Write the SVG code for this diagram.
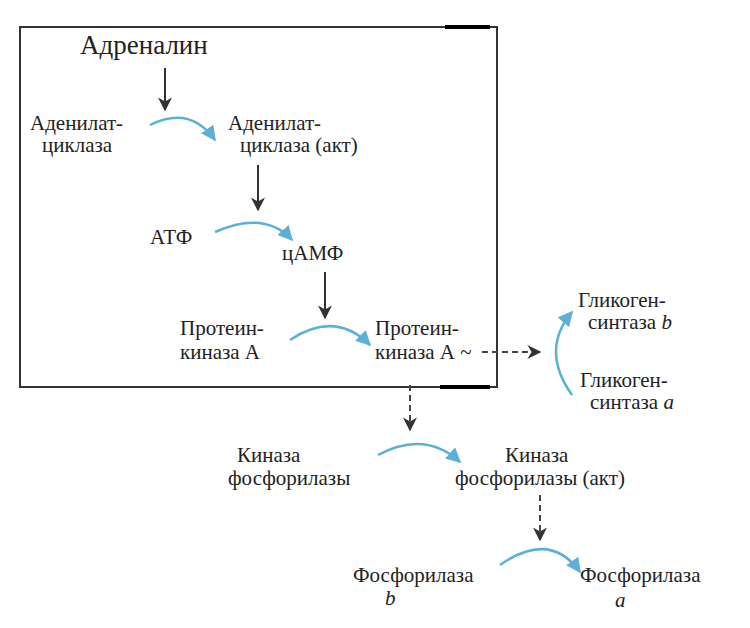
<svg xmlns="http://www.w3.org/2000/svg" width="750" height="628" viewBox="0 0 750 628">
<defs>
<marker id="ab" viewBox="0 0 10 10" refX="9" refY="5" markerWidth="6" markerHeight="6" orient="auto"><path d="M0,0 L10,5 L0,10 z" fill="#5bb0d8"/></marker>
<marker id="ak" viewBox="0 0 10 10" refX="9" refY="5" markerWidth="7" markerHeight="7" orient="auto"><path d="M0,0 L10,5 L0,10 L3,5 z" fill="#333"/></marker>
</defs>
<style>
text{font-size:21px;fill:#222}
.blue{fill:none;stroke:#5bb0d8;stroke-width:2.5}
.blk{stroke:#333;stroke-width:2;fill:none}
.dash{stroke:#444;stroke-width:2;stroke-dasharray:6,4;fill:none}
.it{font-style:italic}
</style>
<rect width="750" height="628" fill="#fff"/>
<rect x="20" y="27" width="477" height="360" fill="none" stroke="#333" stroke-width="2"/>
<line x1="445" y1="27" x2="490" y2="27" stroke="#000" stroke-width="4"/>
<line x1="440" y1="387" x2="490" y2="387" stroke="#000" stroke-width="4"/>
<g id="connectors">
<line class="blk" x1="165" y1="68" x2="165" y2="110" marker-end="url(#ak)"/>
<path class="blue" d="M150,125 Q190,105 215,140" marker-end="url(#ab)"/>
<line class="blk" x1="258" y1="165" x2="258" y2="210" marker-end="url(#ak)"/>
<path class="blue" d="M215,232 Q265,210 292,240" marker-end="url(#ab)"/>
<line class="blk" x1="325" y1="272" x2="325" y2="318" marker-end="url(#ak)"/>
<path class="blue" d="M290,340 Q335,310 370,345" marker-end="url(#ab)"/>
<line class="dash" x1="482" y1="352" x2="540" y2="352" marker-end="url(#ak)"/>
<path class="blue" d="M572,395 Q540,350 572,312" marker-end="url(#ab)"/>
<line class="dash" x1="410" y1="385" x2="410" y2="430" marker-end="url(#ak)"/>
<path class="blue" d="M378,455 Q425,430 460,462" marker-end="url(#ab)"/>
<line class="dash" x1="540" y1="495" x2="540" y2="540" marker-end="url(#ak)"/>
<path class="blue" d="M500,565 Q550,530 580,572" marker-end="url(#ab)"/>
</g>
<g font-family="'Liberation Serif', 'Times New Roman', 'DejaVu Serif', serif">
<g id="adrenalin"><text x="80" y="54" style="font-size:27px">Адреналин</text></g>
<g id="ac1"><text x="30" y="130">Аденилат-</text><text x="42" y="152">циклаза</text></g>
<g id="ac2"><text x="228" y="130">Аденилат-</text><text x="240" y="152">циклаза (акт)</text></g>
<g id="atf"><text x="150" y="244">АТФ</text></g>
<g id="camp"><text x="282" y="260">цАМФ</text></g>
<g id="pk1"><text x="180" y="335">Протеин-</text><text x="180" y="359">киназа А</text></g>
<g id="pk2"><text x="375" y="335">Протеин-</text><text x="375" y="359">киназа А ~</text></g>
<g id="gs1"><text x="578" y="307">Гликоген-</text><text x="588" y="329">синтаза <tspan class="it">b</tspan></text></g>
<g id="gs2"><text x="580" y="387">Гликоген-</text><text x="590" y="409">синтаза <tspan class="it">a</tspan></text></g>
<g id="kf1"><text x="237" y="462">Киназа</text><text x="228" y="485">фосфорилазы</text></g>
<g id="kf2"><text x="505" y="462">Киназа</text><text x="455" y="485">фосфорилазы (акт)</text></g>
<g id="f1"><text x="353" y="582">Фосфорилаза</text><text x="385" y="605" class="it">b</text></g>
<g id="f2"><text x="580" y="582">Фосфорилаза</text><text x="615" y="607" class="it">a</text></g>
</g>
</svg>
